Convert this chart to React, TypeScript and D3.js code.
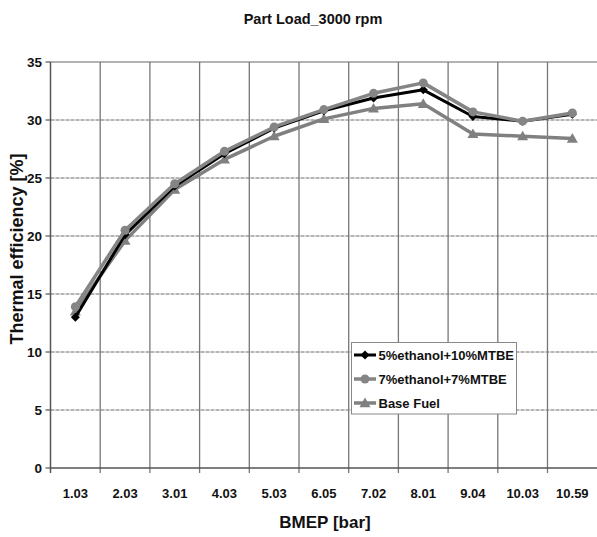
import React from "react";
import * as d3 from "d3";

const categories = ["1.03", "2.03", "3.01", "4.03", "5.03", "6.05", "7.02", "8.01", "9.04", "10.03", "10.59"];
const seriesEthanol5 = [13.0, 20.1, 24.3, 27.1, 29.3, 30.8, 31.9, 32.6, 30.3, 29.9, 30.5];
const seriesEthanol7 = [13.9, 20.5, 24.5, 27.3, 29.4, 30.9, 32.3, 33.2, 30.7, 29.9, 30.6];
const seriesBase = [13.5, 19.6, 24.0, 26.6, 28.6, 30.1, 31.0, 31.4, 28.8, 28.6, 28.4];
const seriesNames = ["5%ethanol+10%MTBE", "7%ethanol+7%MTBE", "Base Fuel"];
const yTicks = [0, 5, 10, 15, 20, 25, 30, 35];

const W = 597;
const H = 537;
const FONT = "'Liberation Sans', Arial, sans-serif";

export default function App() {
  const x = d3.scaleBand<string>().domain(categories).range([50.5, 50.5 + 11 * 49.7]).padding(0);
  const y = d3.scaleLinear().domain([0, 35]).range([468, 62]);
  const cx = (c: string) => (x(c) as number) + x.bandwidth() / 2;

  const line = d3
    .line<number>()
    .x((_, i) => cx(categories[i]))
    .y((d) => y(d));

  const series = [
    { name: seriesNames[2], data: seriesBase, color: "#808080", width: 3.5, marker: "triangle" },
    { name: seriesNames[0], data: seriesEthanol5, color: "#000000", width: 3, marker: "diamond" },
    { name: seriesNames[1], data: seriesEthanol7, color: "#858585", width: 3.5, marker: "circle" },
  ];

  const marker = (type: string, px: number, py: number, color: string, key: string | number) => {
    if (type === "diamond") {
      const s = 4.5;
      return <path key={key} d={`M${px},${py - s}L${px + s},${py}L${px},${py + s}L${px - s},${py}Z`} fill={color} />;
    }
    if (type === "circle") {
      return <circle key={key} cx={px} cy={py} r={4.5} fill={color} />;
    }
    const s = 5.5;
    return <path key={key} d={`M${px},${py - s}L${px + s},${py + s * 0.75}L${px - s},${py + s * 0.75}Z`} fill={color} />;
  };

  const x0 = 50.5;
  const xEnd = 50.5 + 11 * 49.7;

  const legendItems = [
    { name: seriesNames[0], color: "#000000", width: 3, marker: "diamond" },
    { name: seriesNames[1], color: "#858585", width: 3.5, marker: "circle" },
    { name: seriesNames[2], color: "#808080", width: 3.5, marker: "triangle" },
  ];

  return (
    <svg width={W} height={H} style={{ position: "absolute", left: 0, top: 0, background: "#fff" }} fontFamily={FONT}>
      <rect x={0} y={0} width={W} height={H} fill="#fff" />
      <text x={313} y={24} textAnchor="middle" fontSize={14.5} fontWeight="bold" fill="#111">
        Part Load_3000 rpm
      </text>

      {/* horizontal gridlines */}
      {yTicks.filter((t) => t > 0).map((t) => (
        <line
          key={"h" + t}
          x1={x0}
          x2={xEnd}
          y1={y(t)}
          y2={y(t)}
          stroke={t === 35 ? "#666" : "#6a6a6a"}
          strokeWidth={1}
          strokeDasharray={t === 35 ? undefined : "4,1"}
        />
      ))}
      {/* vertical gridlines */}
      {categories.map((c, i) =>
        i === 0 ? null : (
          <line key={"v" + c} x1={x(c)} x2={x(c)} y1={y(35)} y2={y(0) + 5} stroke="#777" strokeWidth={1.3} />
        )
      )}
      {/* axes */}
      <line x1={x0} x2={x0} y1={y(35)} y2={y(0) + 5} stroke="#555" strokeWidth={1.5} />
      <line x1={x0} x2={xEnd} y1={y(0)} y2={y(0)} stroke="#555" strokeWidth={1.5} />
      {yTicks.map((t) => (
        <g key={"yt" + t}>
          <line x1={x0 - 5} x2={x0} y1={y(t)} y2={y(t)} stroke="#555" strokeWidth={1.2} />
          <text x={42} y={y(t) + 4.5} textAnchor="end" fontSize={13.5} fontWeight="bold" fill="#111">
            {t}
          </text>
        </g>
      ))}
      {categories.map((c) => (
        <text key={"xt" + c} x={cx(c)} y={498} textAnchor="middle" fontSize={13} fontWeight="bold" fill="#111">
          {c}
        </text>
      ))}
      <text x={325} y={528} textAnchor="middle" fontSize={17} fontWeight="bold" fill="#111">
        BMEP [bar]
      </text>
      <text
        transform={`translate(23,249) rotate(-90)`}
        textAnchor="middle"
        fontSize={18}
        fontWeight="bold"
        fill="#111"
      >
        Thermal efficiency [%]
      </text>

      {/* series */}
      {series.map((s) => (
        <g key={s.name}>
          <path d={line(s.data) as string} fill="none" stroke={s.color} strokeWidth={s.width} strokeLinejoin="round" />
          {s.data.map((v, i) => marker(s.marker, cx(categories[i]), y(v), s.color, i))}
        </g>
      ))}

      {/* legend */}
      <g>
        <rect x={351.5} y={342.5} width={165} height={71.5} fill="#fff" stroke="#888" strokeWidth={1} />
        {legendItems.map((it, i) => {
          const ly = 355 + i * 24;
          return (
            <g key={it.name}>
              <line x1={354} x2={376} y1={ly} y2={ly} stroke={it.color} strokeWidth={it.width} />
              {marker(it.marker, 365, ly, it.color, "m")}
              <text x={378.5} y={ly + 4.8} fontSize={13} fontWeight="bold" fill="#111">
                {it.name}
              </text>
            </g>
          );
        })}
      </g>
    </svg>
  );
}
